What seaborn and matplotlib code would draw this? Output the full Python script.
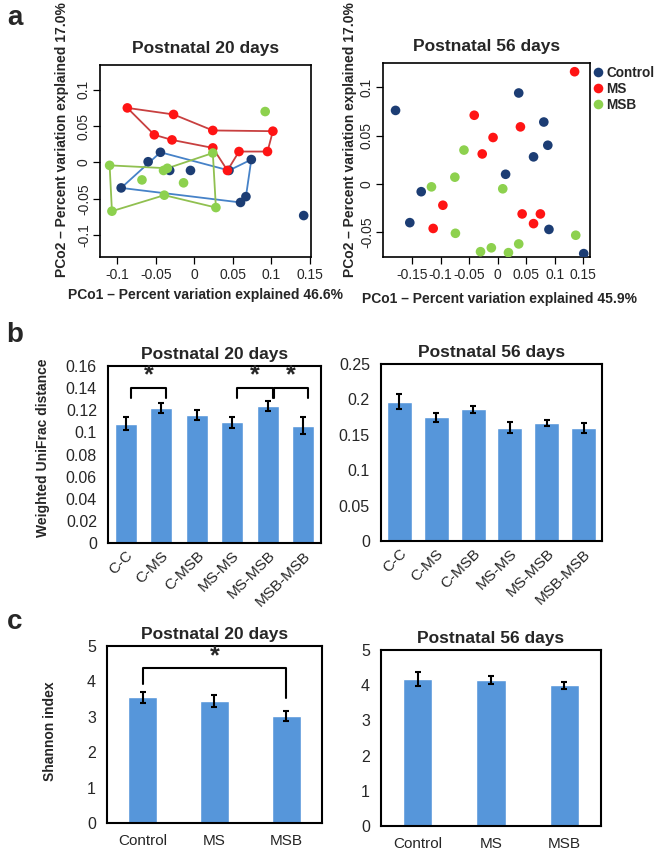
import numpy as np
import pandas as pd
import matplotlib
matplotlib.use("Agg")
import matplotlib.pyplot as plt
import seaborn as sns

sns.set_theme(style="white")
plt.rcParams['font.family'] = ['Liberation Sans', 'DejaVu Sans']

# ---------------- data ----------------
groups = ["Control", "MS", "MSB"]

# Panel a: PCoA, postnatal 20 days
p20_ctrl_x = [-0.044, -0.060, -0.032, -0.005, -0.095, 0.045, 0.074, 0.067, 0.060, 0.142]
p20_ctrl_y = [0.014, 0.001, -0.011, -0.011, -0.035, -0.011, 0.004, -0.047, -0.055, -0.073]
p20_ms_x = [-0.087, -0.027, 0.024, 0.102, 0.095, 0.058, 0.043, 0.024, -0.029, -0.052]
p20_ms_y = [0.075, 0.066, 0.044, 0.043, 0.015, 0.015, -0.011, 0.020, 0.031, 0.038]
p20_msb_x = [-0.110, -0.068, -0.040, -0.035, -0.014, -0.039, -0.107, 0.028, 0.024, 0.092]
p20_msb_y = [-0.004, -0.024, -0.011, -0.008, -0.028, -0.045, -0.067, -0.062, 0.013, 0.070]
hull_ctrl = [4, 0, 5, 6, 7, 8]
hull_ms = [0, 1, 2, 3, 4, 5, 6, 7, 8, 9]
hull_msb = [0, 3, 8, 7, 5, 6]

# Panel a: PCoA, postnatal 56 days
p56_ctrl_x = [-0.179, 0.037, 0.081, 0.088, 0.063, 0.014, -0.134, -0.154, 0.090, 0.151]
p56_ctrl_y = [0.076, 0.094, 0.064, 0.040, 0.028, 0.010, -0.008, -0.040, -0.047, -0.072]
p56_ms_x = [0.135, -0.041, 0.040, -0.008, -0.027, -0.096, -0.113, 0.043, 0.075, 0.063]
p56_ms_y = [0.116, 0.071, 0.059, 0.048, 0.031, -0.022, -0.046, -0.031, -0.031, -0.041]
p56_msb_x = [-0.059, -0.075, -0.116, 0.009, -0.074, -0.030, -0.011, 0.019, 0.037, 0.137]
p56_msb_y = [0.035, 0.007, -0.003, -0.005, -0.051, -0.070, -0.066, -0.071, -0.062, -0.053]

x20_ticks = [-0.1, -0.05, 0, 0.05, 0.1, 0.15]
x20_labels = ["-0.1", "-0.05", "0", "0.05", "0.1", "0.15"]
y20_ticks = [-0.1, -0.05, 0, 0.05, 0.1]
y20_labels = ["-0.1", "-0.05", "0", "0.05", "0.1"]
x56_ticks = [-0.15, -0.1, -0.05, 0, 0.05, 0.1, 0.15]
x56_labels = ["-0.15", "-0.1", "-0.05", "0", "0.05", "0.1", "0.15"]
y56_ticks = [-0.05, 0, 0.05, 0.1]
y56_labels = ["-0.05", "0", "0.05", "0.1"]

# Panel b: weighted UniFrac distance
pairs = ["C-C", "C-MS", "C-MSB", "MS-MS", "MS-MSB", "MSB-MSB"]
unifrac20 = [0.108, 0.122, 0.116, 0.109, 0.124, 0.106]
unifrac20_err = [0.0063, 0.0046, 0.0044, 0.005, 0.0046, 0.0076]
unifrac56 = [0.197, 0.175, 0.186, 0.160, 0.166, 0.160]
unifrac56_err = [0.011, 0.0063, 0.005, 0.0078, 0.0042, 0.0068]
b20_ticks = [0, 0.02, 0.04, 0.06, 0.08, 0.1, 0.12, 0.14, 0.16]
b20_labels = ["0", "0.02", "0.04", "0.06", "0.08", "0.1", "0.12", "0.14", "0.16"]
b56_ticks = [0, 0.05, 0.1, 0.15, 0.2, 0.25]
b56_labels = ["0", "0.05", "0.1", "0.15", "0.2", "0.25"]
b20_sig_pairs = [(0, 1), (3, 4), (4, 5)]

# Panel c: Shannon index
shannon20 = [3.55, 3.45, 3.03]
shannon20_err = [0.16, 0.165, 0.14]
shannon56 = [4.17, 4.15, 4.0]
shannon56_err = [0.2, 0.11, 0.1]
c_ticks = [0, 1, 2, 3, 4, 5]
c_sig_pair = (0, 2)

# ---------------- style ----------------
pt_colors = {"Control": "#1C3D74", "MS": "#FF1414", "MSB": "#8DD14E"}
hull_colors = {"Control": "#4682C8", "MS": "#C84040", "MSB": "#90C050"}
bar_color = "#5696DA"

W, H = 660, 855
fig = plt.figure(figsize=(W / 100, H / 100), dpi=100)


def add_ax(l, t, r, b):
    return fig.add_axes([l / W, 1 - b / H, (r - l) / W, (b - t) / H])


def frame(ax, lw):
    for s in ax.spines.values():
        s.set_visible(True)
        s.set_color("black")
        s.set_linewidth(lw)


def scatter_panel(ax, xs, ys, hulls, xlim, ylim, xt, xl, yt, yl, title, legend):
    rows = []
    for g, (x, y) in zip(groups, zip(xs, ys)):
        for a, b in zip(x, y):
            rows.append({"x": a, "y": b, "group": g})
    df = pd.DataFrame(rows)
    if hulls is not None:
        for g, x, y, h in zip(groups, xs, ys, hulls):
            hx = [x[i] for i in h] + [x[h[0]]]
            hy = [y[i] for i in h] + [y[h[0]]]
            ax.plot(hx, hy, color=hull_colors[g], lw=1.3, zorder=1)
    sns.scatterplot(data=df, x="x", y="y", hue="group", hue_order=groups,
                    palette=pt_colors, s=48, linewidth=0, ax=ax, legend=legend, zorder=3)
    ax.set_xlim(*xlim)
    ax.set_ylim(*ylim)
    ax.set_xticks(xt)
    ax.set_xticklabels(xl, fontsize=10)
    ax.set_yticks(yt)
    ax.set_yticklabels(yl, fontsize=10, rotation=90, va="center")
    ax.tick_params(direction="out", length=5, width=0.9, color="black", pad=3,
                   bottom=True, left=True)
    ax.tick_params(axis="y", pad=1.5)
    ax.set_xlabel("")
    ax.set_ylabel("")
    ax.set_title(title, fontsize=12.5, fontweight="bold", pad=9)
    frame(ax, 1.2)


axA1 = add_ax(100, 65, 311, 257)
scatter_panel(axA1, [p20_ctrl_x, p20_ms_x, p20_msb_x], [p20_ctrl_y, p20_ms_y, p20_msb_y],
              [hull_ctrl, hull_ms, hull_msb], (-0.1225, 0.1515), (-0.130, 0.134),
              x20_ticks, x20_labels, y20_ticks, y20_labels, "Postnatal 20 days", False)

axA2 = add_ax(383, 63, 590, 257)
scatter_panel(axA2, [p56_ctrl_x, p56_ms_x, p56_msb_x], [p56_ctrl_y, p56_ms_y, p56_msb_y],
              None, (-0.201, 0.162), (-0.0755, 0.125),
              x56_ticks, x56_labels, y56_ticks, y56_labels, "Postnatal 56 days", True)
sns.move_legend(axA2, "upper left", bbox_to_anchor=(1.0, 1.0), frameon=False, title=None,
                handlelength=0.8, handletextpad=0.2, borderaxespad=0, borderpad=0.2,
                labelspacing=0.15, prop={"weight": "bold", "size": 9.8})

fig.text(205 / W, 1 - 295 / H, "PCo1 \u2013 Percent variation explained 46.6%",
         ha="center", va="center", fontsize=10, fontweight="bold")
fig.text(499 / W, 1 - 299 / H, "PCo1 \u2013 Percent variation explained 45.9%",
         ha="center", va="center", fontsize=10, fontweight="bold")
fig.text(62 / W, 1 - 140 / H, "PCo2 \u2013 Percent variation explained 17.0%",
         ha="center", va="center", rotation=90, fontsize=10, fontweight="bold")
fig.text(350 / W, 1 - 140 / H, "PCo2 \u2013 Percent variation explained 17.0%",
         ha="center", va="center", rotation=90, fontsize=10, fontweight="bold")


def bar_panel(ax, cats, vals, errs, width, yt, yl, ylim, title, rot):
    df = pd.DataFrame({"cat": cats, "val": vals})
    sns.barplot(data=df, x="cat", y="val", order=cats, color=bar_color, width=width,
                errorbar=None, saturation=1, ax=ax, zorder=2)
    ax.errorbar(np.arange(len(cats)), vals, yerr=errs, fmt="none", ecolor="black",
                elinewidth=1.5, capsize=2.5, capthick=1.5, zorder=4)
    ax.set_xlim(-0.5, len(cats) - 0.5)
    ax.set_ylim(*ylim)
    ax.set_yticks(yt)
    ax.set_yticklabels(yl, fontsize=11.5)
    ax.set_xticks(range(len(cats)))
    if rot:
        ax.set_xticklabels(cats, fontsize=11, rotation=45, ha="right", rotation_mode="anchor")
    else:
        ax.set_xticklabels(cats, fontsize=11)
    ax.tick_params(length=0, pad=8)
    ax.set_xlabel("")
    ax.set_ylabel("")
    ax.set_title(title, fontsize=12.5, fontweight="bold", pad=5)
    frame(ax, 1.5)


axB1 = add_ax(108, 366, 321, 543)
bar_panel(axB1, pairs, unifrac20, unifrac20_err, 0.63, b20_ticks, b20_labels, (0, 0.16),
          "Postnatal 20 days", True)
axB1.tick_params(axis="x", pad=4)
for k, (i, j) in enumerate(b20_sig_pairs):
    gap = 0.03 if k == 2 else 0.0
    x0, x1 = i + 0.14 + gap, j + 0.14
    axB1.plot([x0, x0, x1, x1], [0.1315, 0.140, 0.140, 0.1315], color="black", lw=1.5,
              zorder=5)
    axB1.text((x0 + x1) / 2, 0.1405, "*", ha="center", va="bottom", fontsize=18,
              fontweight="bold")
fig.text(43 / W, 1 - 448 / H, "Weighted UniFrac distance", rotation=90, ha="center",
         va="center", fontsize=10, fontweight="bold")

axB2 = add_ax(381, 364, 602, 541)
bar_panel(axB2, pairs, unifrac56, unifrac56_err, 0.68, b56_ticks, b56_labels, (0, 0.25),
          "Postnatal 56 days", True)
axB2.tick_params(axis="x", pad=4)

axC1 = add_ax(107, 646, 322, 823)
bar_panel(axC1, groups, shannon20, shannon20_err, 0.4, c_ticks, [str(t) for t in c_ticks],
          (0, 5), "Postnatal 20 days", False)
i, j = c_sig_pair
axC1.plot([i, i, j, j], [3.94, 4.37, 4.37, 3.52], color="black", lw=1.5, zorder=5)
axC1.text((i + j) / 2, 4.37, "*", ha="center", va="bottom", fontsize=18, fontweight="bold")
fig.text(50 / W, 1 - 731 / H, "Shannon index", rotation=90, ha="center", va="center",
         fontsize=10, fontweight="bold")

axC2 = add_ax(381, 650, 601, 826)
bar_panel(axC2, groups, shannon56, shannon56_err, 0.4, c_ticks, [str(t) for t in c_ticks],
          (0, 5), "Postnatal 56 days", False)

# panel letters
fig.text(7 / W, 1 - 18 / H, "a", fontsize=20, fontweight="bold", ha="left", va="center")
fig.text(6 / W, 1 - 335 / H, "b", fontsize=20, fontweight="bold", ha="left", va="center")
fig.text(7 / W, 1 - 622 / H, "c", fontsize=20, fontweight="bold", ha="left", va="center")

fig.savefig("out.png", dpi=100, facecolor="white")
